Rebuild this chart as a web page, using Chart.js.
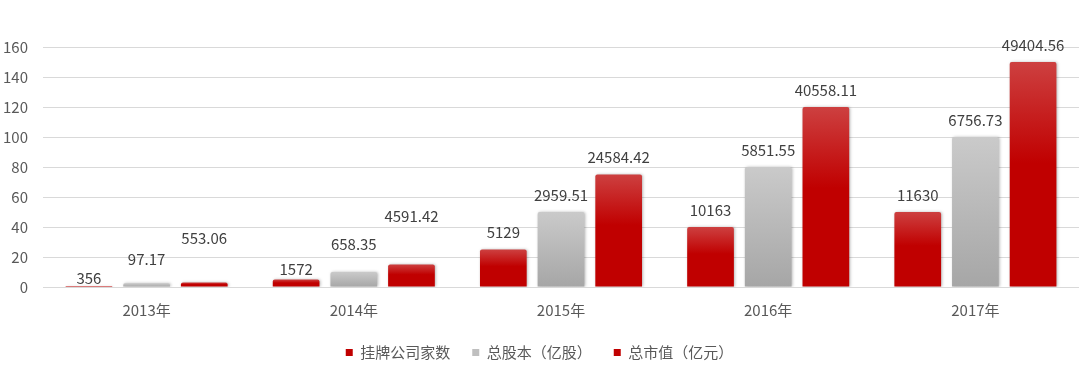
<!DOCTYPE html>
<html>
<head>
<meta charset="utf-8">
<script src="https://cdn.jsdelivr.net/npm/chart.js@4"></script>
<style>
  html, body { margin: 0; padding: 0; background: #fff; }
  #wrap { width: 1080px; height: 374px; }
</style>
</head>
<body>
<div id="wrap"><canvas id="chart"></canvas></div>
<script>
/* ================= DATA ================= */
const years = ["2013年", "2014年", "2015年", "2016年", "2017年"];
const seriesNames = ["挂牌公司家数", "总股本（亿股）", "总市值（亿元）"];

// bar heights as drawn on the axis
const companyBars = [0.7, 5, 25, 40, 50];
const shareBars = [2.5, 10, 50, 80, 100];
const marketBars = [3, 15, 75, 120, 150];

// texts shown over the bars
const companyText = ["356", "1572", "5129", "10163", "11630"];
const shareText = ["97.17", "658.35", "2959.51", "5851.55", "6756.73"];
const marketText = ["553.06", "4591.42", "24584.42", "40558.11", "49404.56"];

const yMin = 0, yMax = 160, yStep = 20;

/* ================= STYLE ================= */
const FONT = "'Noto Sans CJK SC', 'Noto Sans', sans-serif";
const RED = ["#cd4040", "#c00000"];
const GRAY = ["#cacaca", "#a6a6a6"];

// distance (px) from bar top to label centre, per series
const labelGap = [
    [8, 10, 17, 17, 17],
    [24, 28, 17, 17, 17],
    [44, 48, 17, 17, 17]
];

function gradientFill(colors) {
    return ctx => {
        const chart = ctx.chart;
        if (!chart.chartArea || ctx.raw === undefined) return colors[1];
        const y = chart.scales.y;
        const top = y.getPixelForValue(ctx.raw);
        const bottom = y.getPixelForValue(0);
        if (bottom - top < 2) return colors[1];
        const g = chart.ctx.createLinearGradient(0, top, 0, bottom);
        g.addColorStop(0, colors[0]);
        g.addColorStop(0.45, colors[1]);
        g.addColorStop(1, colors[1]);
        return g;
    };
}

function grayFill() {
    return ctx => {
        const chart = ctx.chart;
        if (!chart.chartArea || ctx.raw === undefined) return GRAY[1];
        const y = chart.scales.y;
        const top = y.getPixelForValue(ctx.raw);
        const bottom = y.getPixelForValue(0);
        if (bottom - top < 2) return "#bdbdbd";
        const g = chart.ctx.createLinearGradient(0, top, 0, bottom);
        g.addColorStop(0, GRAY[0]);
        g.addColorStop(1, GRAY[1]);
        return g;
    };
}

const texts = [companyText, shareText, marketText];

/* ================= PLUGIN: shadow + labels ================= */
const barDecor = {
    id: "barDecor",
    beforeDatasetsDraw(chart) {
        const c = chart.ctx;
        c.save();
        c.shadowColor = "rgba(0,0,0,0.28)";
        c.shadowBlur = 3;
        c.shadowOffsetX = 1;
        c.shadowOffsetY = 0;
    },
    afterDatasetsDraw(chart) {
        const c = chart.ctx;
        c.restore();
        c.save();
        c.font = "15px " + FONT;
        c.fillStyle = "#404040";
        c.textAlign = "center";
        c.textBaseline = "middle";
        chart.data.datasets.forEach((ds, i) => {
            const meta = chart.getDatasetMeta(i);
            meta.data.forEach((bar, j) => {
                c.fillText(texts[i][j], bar.x, bar.y - labelGap[i][j]);
            });
        });
        c.restore();
    }
};

/* ================= CHART ================= */
new Chart(document.getElementById("chart"), {
    type: "bar",
    data: {
        labels: years,
        datasets: [
            { label: seriesNames[0], data: companyBars, backgroundColor: gradientFill(RED), legendColor: "#c00000" },
            { label: seriesNames[1], data: shareBars, backgroundColor: grayFill(), legendColor: "#bfbfbf" },
            { label: seriesNames[2], data: marketBars, backgroundColor: gradientFill(RED), legendColor: "#c00000" }
        ]
    },
    options: {
        responsive: true,
        maintainAspectRatio: false,
        animation: false,
        layout: { padding: { top: 47, right: 1, left: 0, bottom: 4 } },
        datasets: {
            bar: {
                categoryPercentage: 0.835,
                barPercentage: 0.81,
                borderRadius: 2,
                borderSkipped: "bottom"
            }
        },
        scales: {
            x: {
                afterFit(scale) { scale.height -= 10; },
                grid: { display: false, drawTicks: false },
                border: { display: false },
                ticks: { color: "#595959", font: { family: FONT, size: 15 }, padding: 14 }
            },
            y: {
                min: yMin,
                max: yMax,
                afterFit(scale) { scale.width = 43; },
                grid: { color: "#d9d9d9", drawTicks: false },
                border: { display: false },
                ticks: { stepSize: yStep, color: "#595959", font: { family: FONT, size: 15 }, padding: 15 }
            }
        },
        plugins: {
            tooltip: { enabled: false },
            legend: {
                position: "bottom",
                labels: {
                    color: "#595959",
                    font: { family: FONT, size: 15 },
                    boxWidth: 7,
                    boxHeight: 7,
                    padding: 22,
                    generateLabels(chart) {
                        return chart.data.datasets.map((ds, i) => ({
                            text: ds.label,
                            fillStyle: ds.legendColor,
                            strokeStyle: ds.legendColor,
                            lineWidth: 0,
                            fontColor: "#595959",
                            datasetIndex: i
                        }));
                    }
                }
            }
        }
    },
    plugins: [barDecor]
});
</script>
</body>
</html>
